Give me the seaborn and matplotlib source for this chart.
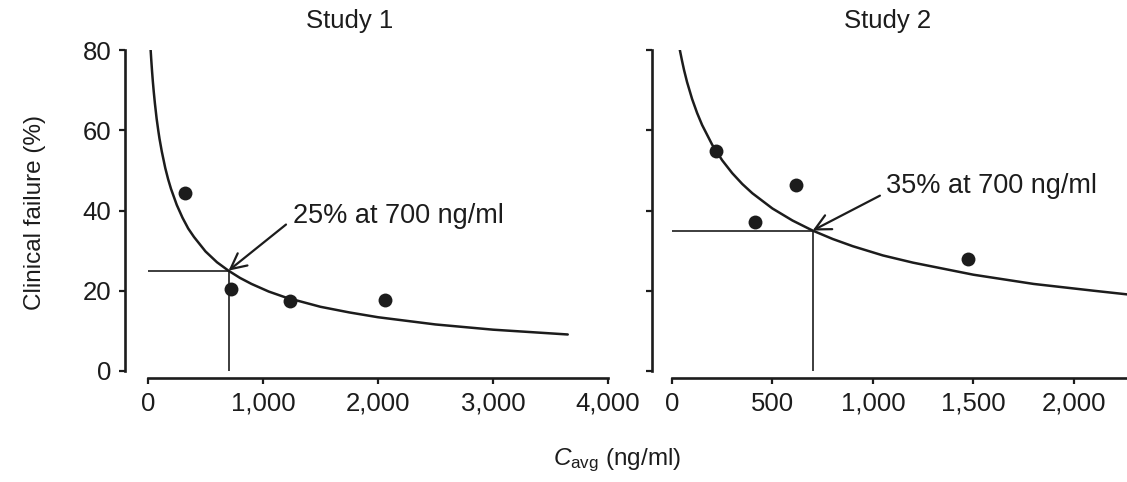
import seaborn as sns
import pandas as pd
import matplotlib.pyplot as plt

s1_conc = [324, 721, 1235, 2059]
s1_fail = [44.4, 20.5, 17.4, 17.6]
s1_curve_x = [23, 28, 35, 42, 50, 60, 75, 90, 100, 120, 150, 175, 200, 250, 300, 350,
              400, 500, 600, 700, 800, 900, 1050, 1200, 1500, 1750, 2000, 2500, 3000, 3650]
s1_curve_y = [80.0, 77.7, 74.8, 72.2, 69.6, 66.7, 62.9, 59.8, 57.9, 54.7, 50.6, 47.8,
              45.4, 41.4, 38.2, 35.5, 33.4, 29.8, 27.1, 25.0, 23.2, 21.7, 19.8, 18.3,
              16.0, 14.6, 13.4, 11.6, 10.3, 9.1]

# Study 2
s2_conc = [218, 415, 618, 1474]
s2_fail = [54.8, 37.1, 46.3, 27.9]
s2_curve_x = [39, 50, 60, 75, 100, 125, 150, 200, 250, 300, 350, 400, 500, 600, 700,
              800, 900, 1050, 1200, 1500, 1800, 2100, 2265]
s2_curve_y = [80.0, 77.3, 75.0, 72.0, 67.8, 64.3, 61.3, 56.4, 52.5, 49.3, 46.6, 44.3,
              40.5, 37.5, 35.0, 32.9, 31.1, 28.8, 27.0, 24.0, 21.7, 20.0, 19.1]

# valor de referencia a 700 ng/ml
ref_conc = 700
s1_ref = 25
s2_ref = 35

x1_ticks = [0, 1000, 2000, 3000, 4000]
x2_ticks = [0, 500, 1000, 1500, 2000]
y_ticks = [0, 20, 40, 60, 80]

sns.set_theme(style="ticks")
plt.rcParams['font.family'] = ['Liberation Sans', 'DejaVu Sans']
plt.rcParams['mathtext.fontset'] = 'custom'
plt.rcParams['mathtext.rm'] = 'Liberation Sans'
plt.rcParams['mathtext.it'] = 'Liberation Sans:italic'

ink = '#1c1c1c'
W, H = 1127, 482
fig = plt.figure(figsize=(W / 100, H / 100), dpi=100)
ax1 = fig.add_axes([148 / W, 111 / H, 460 / W, 321 / H])
ax2 = fig.add_axes([672 / W, 111 / H, 455 / W, 321 / H])


def panel(ax, cx, cy, px, py, ref_y, xlim, xticks, left_off, text_xy, arrow_from, label):
    curve = pd.DataFrame({'x': cx, 'y': cy})
    pts = pd.DataFrame({'x': px, 'y': py})
    sns.lineplot(data=curve, x='x', y='y', color=ink, lw=1.8, ax=ax)
    ax.plot([0, ref_conc], [ref_y, ref_y], color=ink, lw=1.2)
    ax.plot([ref_conc, ref_conc], [0, ref_y], color=ink, lw=1.2)
    sns.scatterplot(data=pts, x='x', y='y', color=ink, s=100, edgecolor=ink,
                    linewidth=0, ax=ax, zorder=5)
    ax.annotate('', xy=(ref_conc, ref_y), xytext=arrow_from,
                arrowprops=dict(arrowstyle='->', color=ink, lw=1.6,
                                mutation_scale=28, shrinkA=0, shrinkB=0))
    ax.text(text_xy[0], text_xy[1], label, fontsize=19.5, color=ink,
            ha='left', va='baseline')

    ax.set_xlim(*xlim)
    ax.set_ylim(0, 80)
    ax.set_xticks(xticks)
    ax.set_xticklabels([f'{t:,}' for t in xticks])
    ax.set_yticks(y_ticks)
    ax.set_xlabel('')
    ax.set_ylabel('')
    for side in ['top', 'right']:
        ax.spines[side].set_visible(False)
    ax.spines['left'].set_position(('outward', left_off))
    ax.spines['bottom'].set_position(('outward', 5))
    ax.spines['left'].set_bounds(0, 80)
    for side in ['left', 'bottom']:
        ax.spines[side].set_linewidth(1.9)
        ax.spines[side].set_color(ink)
    ax.tick_params(axis='both', direction='out', length=4, width=1.6, color=ink,
                   labelsize=18.5, labelcolor=ink, pad=6)


panel(ax1, s1_curve_x, s1_curve_y, s1_conc, s1_fail, s1_ref, (0, 4000), x1_ticks,
      16.5, (1258, 36.8), (1200, 36.5), '25% at 700 ng/ml')
ax1.spines['bottom'].set_bounds(0, 4000)

panel(ax2, s2_curve_x, s2_curve_y, s2_conc, s2_fail, s2_ref, (0, 2265), x2_ticks,
      14.4, (1063, 44.4), (1035, 43.7), '35% at 700 ng/ml')
ax2.tick_params(axis='y', labelleft=False)

fig.text(350 / W, 1 - 21 / H, 'Study 1', fontsize=18.5, color=ink, ha='center', va='center')
fig.text(888 / W, 1 - 21 / H, 'Study 2', fontsize=18.5, color=ink, ha='center', va='center')
fig.text(35 / W, 1 - 212 / H, 'Clinical failure (%)', fontsize=17.5, color=ink,
         rotation=90, ha='center', va='center')
fig.text(617 / W, 1 - 460 / H, r'$C_{\mathrm{avg}}$ (ng/ml)', fontsize=17.5, color=ink,
         ha='center', va='center')

plt.savefig('out.png', dpi=100)
plt.close()
